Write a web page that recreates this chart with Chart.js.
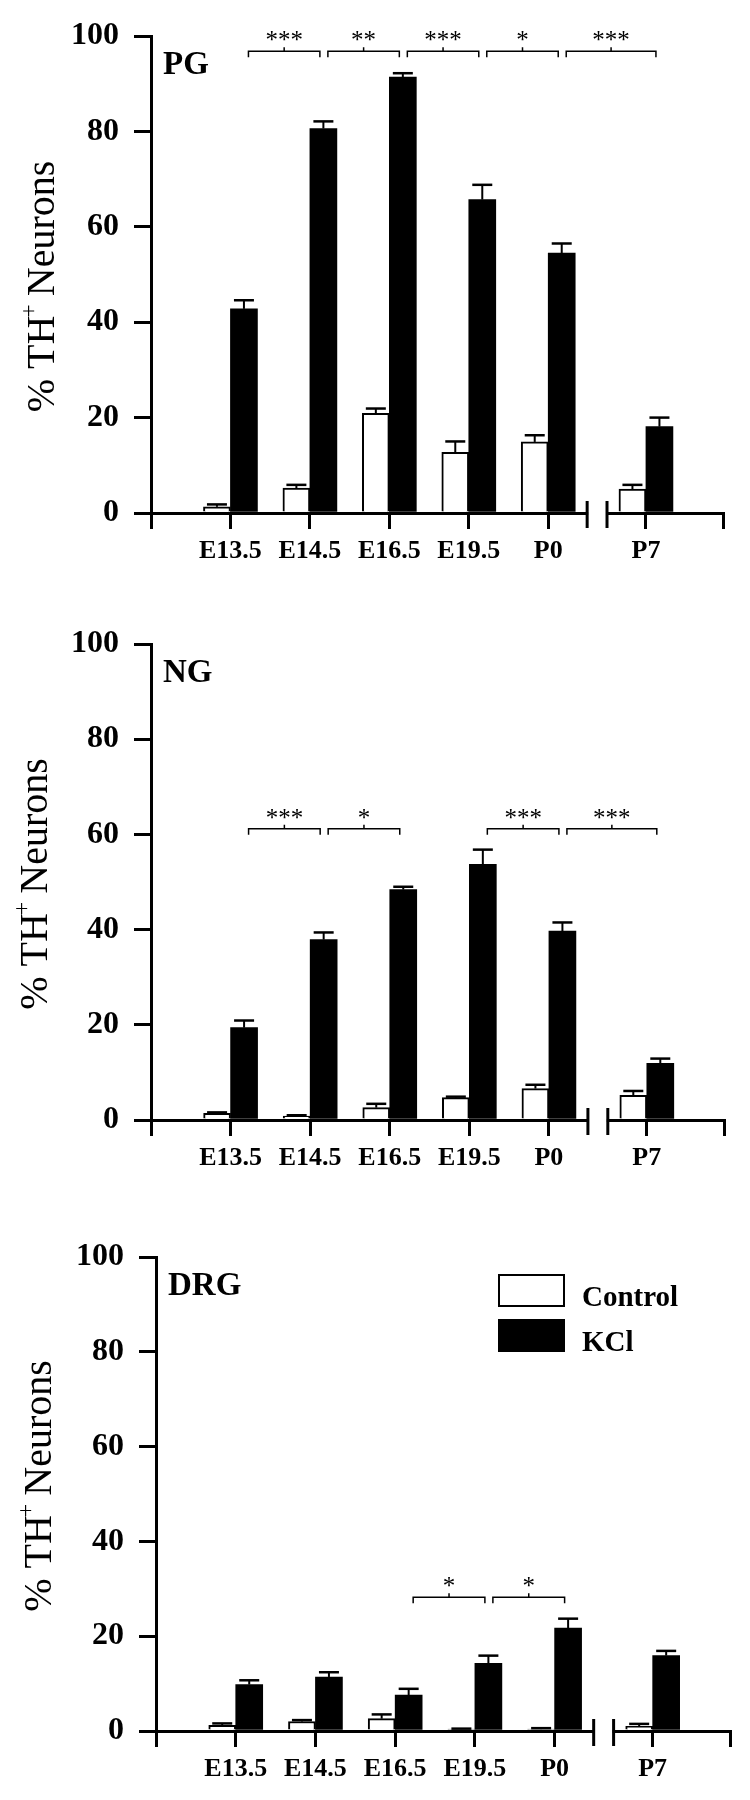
<!DOCTYPE html>
<html>
<head>
<meta charset="utf-8">
<script src="https://cdn.jsdelivr.net/npm/chart.js@4.4.1/dist/chart.umd.min.js"></script>
<style>
  body { margin: 0; background: #fff; }
  .panel { position: absolute; left: 0; width: 750px; height: 600px; }
</style>
</head>
<body>
<div class="panel" style="top:0px"><canvas id="pgChart" width="750" height="600"></canvas></div>
<div class="panel" style="top:600px"><canvas id="ngChart" width="750" height="600"></canvas></div>
<div class="panel" style="top:1200px"><canvas id="drgChart" width="750" height="600"></canvas></div>

<script>
const categories = ['E13.5', 'E14.5', 'E16.5', 'E19.5', 'P0', 'P7'];
const catPositions = [1, 2, 3, 4, 5, 6.23];
const axisBreak = [5.49, 5.74];
const xMax = 7.2;
const seriesNames = ['Control', 'KCl'];
const yTicks = [0, 20, 40, 60, 80, 100];

// PG
const pgControl = [1.3, 5.2, 20.9, 12.7, 14.9, 5.0];
const pgControlErr = [0.5, 0.7, 1.0, 2.3, 1.4, 0.9];
const pgKCl = [42.8, 80.6, 91.4, 65.7, 54.5, 18.1];
const pgKClErr = [1.8, 1.5, 0.8, 3.1, 2.0, 1.9];
const pgSig = [[0, 1, '***'], [1, 2, '**'], [2, 3, '***'], [3, 4, '*'], [4, 5, '***']];
const pgSigLevel = 96.8;

// NG
const ngControl = [1.4, 0.8, 2.6, 4.7, 6.6, 5.2];
const ngControlErr = [0.2, 0.2, 0.8, 0.2, 0.8, 0.9];
const ngKCl = [19.4, 37.9, 48.4, 53.7, 39.7, 11.9];
const ngKClErr = [1.5, 1.5, 0.6, 3.1, 1.8, 1.0];
const ngSig = [[0, 1, '***'], [1, 2, '*'], [3, 4, '***'], [4, 5, '***']];
const ngSigLevel = 61.2;

// DRG
const drgControl = [1.2, 2.0, 2.6, 0.4, 0.4, 1.0];
const drgControlErr = [0.4, 0.3, 0.9, 0.1, 0.2, 0.5];
const drgKCl = [9.8, 11.4, 7.6, 14.3, 21.7, 15.9];
const drgKClErr = [0.9, 1.0, 1.3, 1.6, 2.0, 1.0];
const drgSig = [[2, 3, '*'], [3, 4, '*']];
const drgSigLevel = 28.2;

const SERIF = "'Liberation Serif', 'Times New Roman', serif";

function panelPlugin(p) {
    return {
        id: 'panelExtras',
        afterDatasetsDraw(chart) {
            const ctx = chart.ctx;
            const y = chart.scales.y;
            ctx.save();
            ctx.strokeStyle = '#000';
            chart.data.datasets.forEach((ds, di) => {
                const meta = chart.getDatasetMeta(di);
                const errs = p.errors[di];
                meta.data.forEach((bar, i) => {
                    const capY = y.getPixelForValue(ds.data[i].y + errs[i]);
                    ctx.lineWidth = 2;
                    ctx.beginPath();
                    ctx.moveTo(bar.x, bar.y);
                    ctx.lineTo(bar.x, capY);
                    ctx.stroke();
                    ctx.lineWidth = 2.5;
                    ctx.beginPath();
                    ctx.moveTo(bar.x - 10, capY);
                    ctx.lineTo(bar.x + 10, capY);
                    ctx.stroke();
                });
            });
            ctx.restore();
        },
        afterDraw(chart) {
            const ctx = chart.ctx;
            const x = chart.scales.x;
            const y = chart.scales.y;
            const area = chart.chartArea;
            ctx.save();

            // axis break
            const b0 = x.getPixelForValue(axisBreak[0]);
            const b1 = x.getPixelForValue(axisBreak[1]);
            ctx.fillStyle = '#fff';
            ctx.fillRect(b0 + 1, area.bottom - 3, b1 - b0 - 2, 6);
            ctx.strokeStyle = '#000';
            ctx.lineWidth = 3;
            [b0, b1].forEach(bx => {
                ctx.beginPath();
                ctx.moveTo(bx, area.bottom - 12);
                ctx.lineTo(bx, area.bottom + 15);
                ctx.stroke();
            });

            // significance brackets
            const by = y.getPixelForValue(p.sigLevel);
            ctx.lineWidth = 1.5;
            ctx.fillStyle = '#000';
            ctx.font = '25px ' + SERIF;
            ctx.textAlign = 'center';
            ctx.textBaseline = 'alphabetic';
            p.sig.forEach(([a, c, stars]) => {
                const x1 = x.getPixelForValue(catPositions[a]) + 18;
                const x2 = x.getPixelForValue(catPositions[c]) + 10;
                const mid = (x1 + x2) / 2;
                ctx.beginPath();
                ctx.moveTo(x1, by + 6);
                ctx.lineTo(x1, by);
                ctx.lineTo(x2, by);
                ctx.lineTo(x2, by + 6);
                ctx.moveTo(mid, by);
                ctx.lineTo(mid, by - 4);
                ctx.stroke();
                ctx.fillText(stars, mid, by - 3);
            });

            // panel name
            ctx.textAlign = 'left';
            ctx.font = 'bold 33px ' + SERIF;
            ctx.fillText(p.name, area.left + 12, area.top + 38);

            // y axis title
            const cy = (area.top + area.bottom) / 2 + p.titleDy;
            ctx.translate(p.titleX, cy);
            ctx.rotate(-Math.PI / 2);
            const main = '40px ' + SERIF;
            const sup = '24px ' + SERIF;
            ctx.font = main;
            const w1 = ctx.measureText('% TH').width;
            const w3 = ctx.measureText(' Neurons').width;
            ctx.font = sup;
            const w2 = ctx.measureText('+').width;
            let tx = -(w1 + w2 + w3) / 2;
            ctx.font = main;
            ctx.fillText('% TH', tx, 0);
            tx += w1;
            ctx.font = sup;
            ctx.fillText('+', tx - 2, -18);
            tx += w2;
            ctx.font = main;
            ctx.fillText(' Neurons', tx - 4, 0);
            ctx.setTransform(1, 0, 0, 1, 0, 0);

            // legend
            if (p.legend) {
                const lx = area.left + 343;
                const ly = area.top + 18;
                ctx.font = 'bold 29px ' + SERIF;
                chart.data.datasets.forEach((ds, di) => {
                    const top = ly + di * 45;
                    ctx.fillStyle = ds.backgroundColor;
                    ctx.fillRect(lx, top, 65, 31);
                    ctx.strokeStyle = '#000';
                    ctx.lineWidth = 2;
                    ctx.strokeRect(lx, top, 65, 31);
                    ctx.fillStyle = '#000';
                    ctx.fillText(ds.label, lx + 83, top + 31);
                });
            }
            ctx.restore();
        }
    };
}

function drawPanel(canvasId, p) {
    const el = document.getElementById(canvasId);
    const toPoints = vals => vals.map((v, i) => ({ x: catPositions[i], y: v }));

    new Chart(el, {
        type: 'bar',
        data: {
            datasets: [
                {
                    label: seriesNames[0],
                    data: toPoints(p.control),
                    backgroundColor: '#ffffff',
                    borderColor: '#000000',
                    borderWidth: 2,
                    barThickness: 27
                },
                {
                    label: seriesNames[1],
                    data: toPoints(p.kcl),
                    backgroundColor: '#000000',
                    borderWidth: 0,
                    barThickness: 27
                }
            ]
        },
        options: {
            responsive: false,
            animation: false,
            layout: { padding: { top: p.top, right: p.right, bottom: p.bottom, left: 0 } },
            plugins: {
                legend: { display: false },
                tooltip: { enabled: false }
            },
            scales: {
                x: {
                    type: 'linear',
                    min: 0,
                    max: xMax,
                    offset: false,
                    afterBuildTicks: s => {
                        s.ticks = [0, ...catPositions, xMax].map(v => ({ value: v }));
                    },
                    afterFit: s => { s.height = 60; },
                    grid: {
                        offset: false,
                        drawOnChartArea: false,
                        tickLength: 16,
                        lineWidth: 3,
                        color: '#000'
                    },
                    border: { display: true, color: '#000', width: 3 },
                    ticks: {
                        autoSkip: false,
                        maxRotation: 0,
                        padding: 7,
                        color: '#000',
                        font: { family: SERIF, size: 26, weight: 'bold' },
                        callback: v => {
                            const i = catPositions.indexOf(v);
                            return i >= 0 ? categories[i] : '';
                        }
                    }
                },
                y: {
                    min: 0,
                    max: 100,
                    afterBuildTicks: s => {
                        s.ticks = yTicks.map(v => ({ value: v }));
                    },
                    afterFit: s => { s.width = p.left; },
                    grid: {
                        drawOnChartArea: false,
                        tickLength: 17,
                        lineWidth: 3,
                        color: '#000'
                    },
                    border: { display: true, color: '#000', width: 3 },
                    ticks: {
                        padding: 15,
                        color: '#000',
                        font: { family: SERIF, size: 32, weight: 'bold' }
                    }
                }
            }
        },
        plugins: [panelPlugin(p)]
    });
}

drawPanel('pgChart', {
    name: 'PG', control: pgControl, kcl: pgKCl, errors: [pgControlErr, pgKClErr],
    sig: pgSig, sigLevel: pgSigLevel,
    left: 151, right: 27, top: 36, bottom: 27, titleX: 54, titleDy: 10
});
drawPanel('ngChart', {
    name: 'NG', control: ngControl, kcl: ngKCl, errors: [ngControlErr, ngKClErr],
    sig: ngSig, sigLevel: ngSigLevel,
    left: 151, right: 26, top: 44, bottom: 20, titleX: 47, titleDy: 0
});
drawPanel('drgChart', {
    name: 'DRG', control: drgControl, kcl: drgKCl, errors: [drgControlErr, drgKClErr],
    sig: drgSig, sigLevel: drgSigLevel,
    left: 156, right: 20, top: 57, bottom: 9, titleX: 51, titleDy: -10, legend: true
});
</script>
</body>
</html>
